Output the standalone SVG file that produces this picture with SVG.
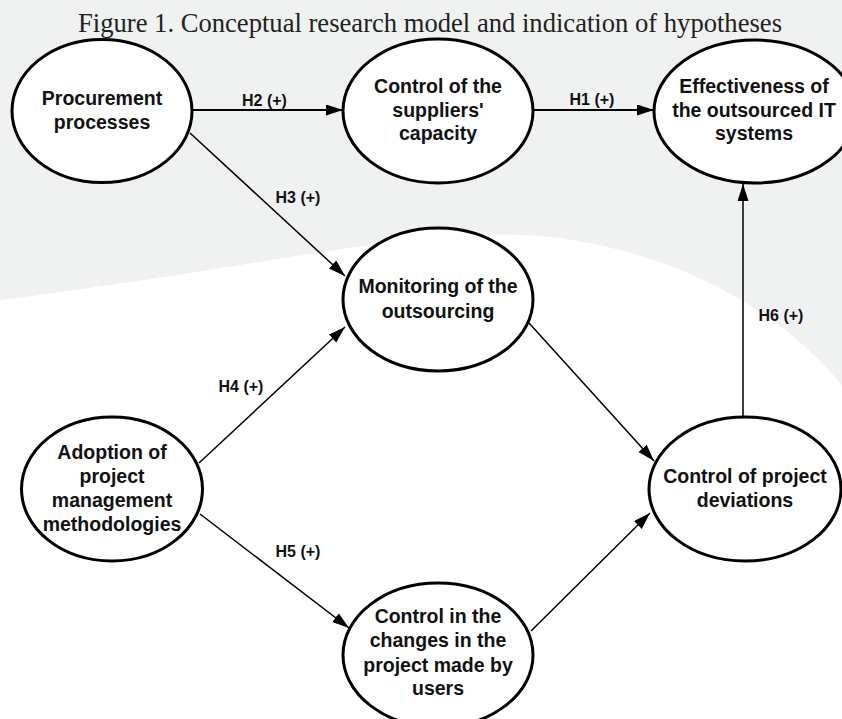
<svg xmlns="http://www.w3.org/2000/svg" width="842" height="719" viewBox="0 0 842 719">
<defs>
<marker id="ah" markerUnits="userSpaceOnUse" markerWidth="18" markerHeight="12" refX="17" refY="5.5" orient="auto">
<path d="M0,0 L17,5.5 L0,11 Z" fill="#000"/>
</marker>
<style>
.node ellipse{fill:#fff;stroke:#000;stroke-width:3}
.node text{font-family:"Liberation Sans",Arial,sans-serif;font-weight:bold;font-size:19.5px;fill:#111;text-anchor:middle}
.edge{stroke:#000;stroke-width:1.5;fill:none;marker-end:url(#ah)}
.edge.h{stroke-width:2}
.lbl{font-family:"Liberation Sans",Arial,sans-serif;font-weight:bold;font-size:16px;fill:#111;text-anchor:middle}
.title{font-family:"Liberation Serif","Times New Roman",serif;font-size:26.5px;fill:#222;text-anchor:middle}
</style>
</defs>
<rect width="842" height="719" fill="#fff"/>
<g id="watermark" fill="#f0f1f1">
<path d="M0,0 H842 V385 C780,310 680,255 560,238 C430,222 300,262 0,300 Z"/>
</g>
<text class="title" x="430" y="32" textLength="704" lengthAdjust="spacingAndGlyphs">Figure 1. Conceptual research model and indication of hypotheses</text>
<g id="connectors">
<line class="edge h" x1="192" y1="110" x2="343" y2="110"/>
<line class="edge h" x1="533" y1="110" x2="654" y2="110"/>
<line class="edge" x1="190" y1="133" x2="345" y2="276"/>
<line class="edge" x1="199" y1="463" x2="345" y2="327"/>
<line class="edge" x1="200" y1="514" x2="349" y2="628"/>
<line class="edge" x1="529" y1="323" x2="654" y2="461"/>
<line class="edge" x1="531" y1="631" x2="650" y2="513"/>
<line class="edge" x1="743" y1="417" x2="743" y2="184"/>
<text class="lbl" x="264.5" y="106">H2 (+)</text>
<text class="lbl" x="592" y="105">H1 (+)</text>
<text class="lbl" x="298" y="203">H3 (+)</text>
<text class="lbl" x="241" y="392">H4 (+)</text>
<text class="lbl" x="298" y="557">H5 (+)</text>
<text class="lbl" x="781" y="321">H6 (+)</text>
</g>
<g id="n-procurement" class="node">
<ellipse cx="102" cy="111" rx="90" ry="71.5"/>
<text x="102" y="105">Procurement</text>
<text x="102" y="129">processes</text>
</g>
<g id="n-suppliers" class="node">
<ellipse cx="438" cy="111" rx="95" ry="72"/>
<text x="438" y="93">Control of the</text>
<text x="438" y="117">suppliers'</text>
<text x="438" y="140">capacity</text>
</g>
<g id="n-effectiveness" class="node">
<ellipse cx="755" cy="111.5" rx="101" ry="71.5"/>
<text x="754" y="93">Effectiveness of</text>
<text x="754" y="117">the outsourced IT</text>
<text x="754" y="140">systems</text>
</g>
<g id="n-monitoring" class="node">
<ellipse cx="438" cy="299.5" rx="95" ry="71.5"/>
<text x="438" y="293">Monitoring of the</text>
<text x="438" y="318">outsourcing</text>
</g>
<g id="n-adoption" class="node">
<ellipse cx="112" cy="489" rx="90.5" ry="72"/>
<text x="112" y="459">Adoption of</text>
<text x="112" y="483">project</text>
<text x="112" y="507">management</text>
<text x="112" y="531">methodologies</text>
</g>
<g id="n-deviations" class="node">
<ellipse cx="745" cy="489" rx="96" ry="72"/>
<text x="745" y="483">Control of project</text>
<text x="745" y="507">deviations</text>
</g>
<g id="n-changes" class="node">
<ellipse cx="438" cy="655" rx="95" ry="72"/>
<text x="438" y="623">Control in the</text>
<text x="438" y="647">changes in the</text>
<text x="438" y="672">project made by</text>
<text x="438" y="695">users</text>
</g>
</svg>
